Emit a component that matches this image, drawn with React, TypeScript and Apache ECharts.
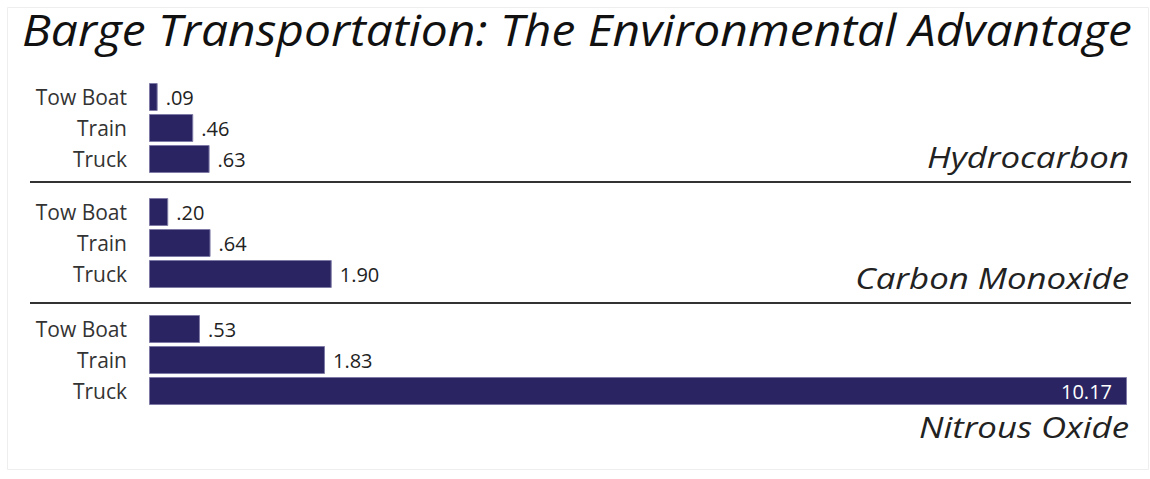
import React, { useEffect, useRef } from "react";
import * as echarts from "echarts";

const vehicles = ["Tow Boat", "Train", "Truck"];
const pollutants = ["Hydrocarbon", "Carbon Monoxide", "Nitrous Oxide"];
const hydrocarbon = [0.09, 0.46, 0.63];
const carbonMonoxide = [0.2, 0.64, 1.9];
const nitrousOxide = [0.53, 1.83, 10.17];
const panelValues = [hydrocarbon, carbonMonoxide, nitrousOxide];
const chartTitle = "Barge Transportation: The Environmental Advantage";

const BAR = "#2a2562";
const FONT = "'Open Sans', sans-serif";

function fmt(v: number): string {
  const s = v.toFixed(2);
  return s.startsWith("0.") ? s.slice(1) : s;
}

export default function App() {
  const ref = useRef<HTMLDivElement>(null);
  useEffect(() => {
    if (!ref.current) return;
    const chart = echarts.init(ref.current, null, { renderer: "svg" });
    const maxVal = Math.max(...panelValues.flat());
    const tops = [81.5, 196.5, 313.5];
    const grids = tops.map((t) => ({ left: 149, right: 23, top: t, height: 93 }));
    const xAxes = tops.map((_, i) => ({
      type: "value",
      gridIndex: i,
      min: 0,
      max: maxVal,
      show: false,
    }));
    const yAxes = tops.map((_, i) => ({
      type: "category",
      gridIndex: i,
      inverse: true,
      data: vehicles,
      axisLine: { show: false },
      axisTick: { show: false },
      splitLine: { show: false },
      axisLabel: { fontSize: 21, color: "#333", fontFamily: FONT, margin: 22 },
    }));
    const series = panelValues.map((vals, i) => ({
      type: "bar",
      xAxisIndex: i,
      yAxisIndex: i,
      barWidth: 28,
      itemStyle: { color: BAR, borderColor: "#7e7aa6", borderWidth: 1 },
      data: vals.map((v) =>
        v === maxVal
          ? {
              value: v,
              label: {
                show: true,
                position: "insideRight",
                distance: 15,
                color: "#fff",
                fontSize: 20,
                fontFamily: FONT,
                formatter: () => fmt(v),
              },
            }
          : {
              value: v,
              label: {
                show: true,
                position: "right",
                distance: 8,
                color: "#222",
                fontSize: 20,
                fontFamily: FONT,
                formatter: () => fmt(v),
              },
            }
      ),
    }));
    const titleTops = [142, 263, 412];
    const sepYs = [182, 303];
    chart.setOption({
      animation: false,
      backgroundColor: "#fff",
      grid: grids,
      xAxis: xAxes,
      yAxis: yAxes,
      series,
      graphic: [
        {
          type: "rect",
          shape: { x: 7.5, y: 7.5, width: 1141, height: 462 },
          style: { fill: "none", stroke: "#eeeeee", lineWidth: 1 },
          silent: true,
        },
        {
          type: "text",
          x: 22,
          y: 7,
          scaleX: 1.09,
          style: {
            text: chartTitle,
            fontFamily: FONT,
            fontStyle: "italic",
            fontSize: 44,
            fill: "#111",
            verticalAlign: "top",
          },
        },
        ...pollutants.map((p, i) => ({
          type: "text",
          x: 1129,
          y: titleTops[i],
          scaleX: 1.2,
          style: {
            text: p,
            fontFamily: FONT,
            fontStyle: "italic",
            fontSize: 29,
            fill: "#222",
            align: "right",
            verticalAlign: "top",
          },
        })),
        ...sepYs.map((y) => ({
          type: "line",
          shape: { x1: 30, y1: y, x2: 1131, y2: y },
          style: { stroke: "#333", lineWidth: 2 },
        })),
      ],
    });
    return () => chart.dispose();
  }, []);
  return (
    <div
      ref={ref}
      style={{ position: "fixed", left: 0, top: 0, width: 1150, height: 479 }}
    />
  );
}
